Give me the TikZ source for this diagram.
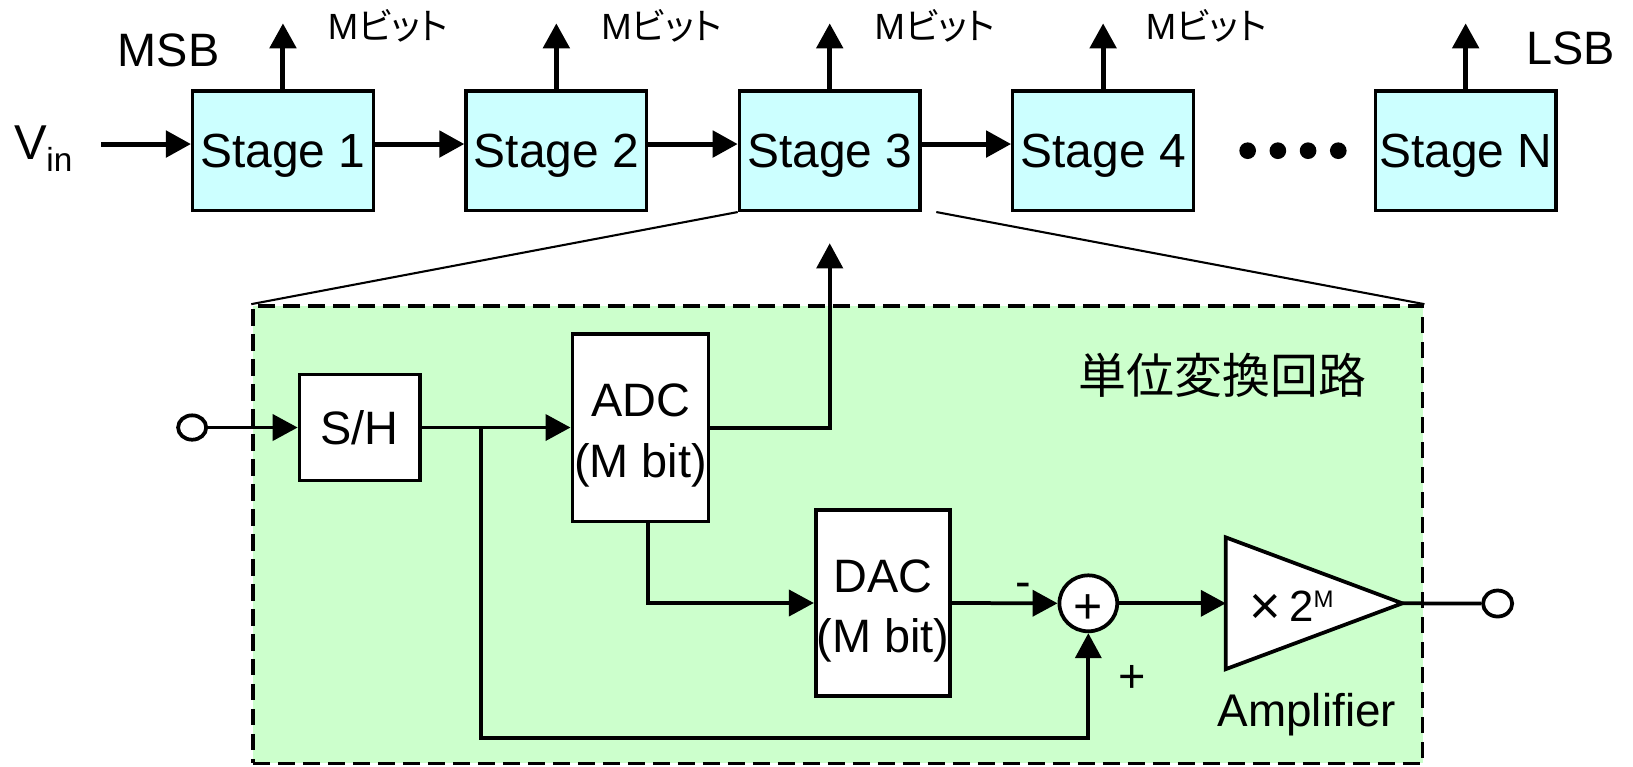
\documentclass[tikz,border=0pt]{standalone}
\usepackage{fontspec}
\setmainfont{Liberation Sans}
\newfontfamily\jpfont{Noto Sans CJK JP}
\newfontfamily\jppfont{Noto Sans CJK JP}[RawFeature=+palt]
\usetikzlibrary{arrows.meta,shapes.geometric}
\definecolor{stagefill}{HTML}{CCFFFF}
\definecolor{areafill}{HTML}{CCFFCC}
\tikzset{
  stagebox/.style={draw,line width=3.2pt,fill=stagefill,minimum width=173.5pt,minimum height=114.6pt,
    inner sep=0pt,text height=33pt,text depth=0pt,font=\fontsize{46}{46}\selectfont},
  topar/.style={line width=4.8pt,-{Triangle[length=24pt,width=25pt]}},
  wire/.style={line width=3.6pt},
  arr/.style={wire,-{Triangle[length=24pt,width=25pt]}},
  blk/.style={draw,line width=3.6pt,fill=white,inner sep=0pt},
  lbl/.style={inner sep=0pt,font=\fontsize{45}{45}\selectfont},
  mbit/.style={inner sep=0pt,anchor=base,font=\fontsize{35}{35}\selectfont},
  twoline/.style={blk,align=center,font=\fontsize{45}{58.3}\selectfont},
}
\begin{document}
\begin{tikzpicture}[x=1pt,y=-1pt]
\useasboundingbox (0,0) rectangle (1568,736);
% unit area
\node[draw,fill=areafill,line width=3.5pt,dash pattern=on 16pt off 8pt,
      minimum width=1123pt,minimum height=439.2pt,inner sep=0pt] (unit) at (804.5,513.4) {};
% stages
\node[stagebox] (s1) at (271.7,144.7) {Stage 1};
\node[stagebox] (s2) at (534.2,144.7) {Stage 2};
\node[stagebox] (s3) at (796.7,144.7) {Stage 3};
\node[stagebox] (s4) at (1059.2,144.7) {Stage 4};
\node[stagebox] (sn) at (1407.3,144.7) {Stage N};
\foreach \x in {1198,1227,1256,1285} \fill (\x,144.7) circle (8pt);
% zoom lines
\draw[line width=2pt] (s3.south west) -- (unit.north west);
\draw[line width=2pt] ([xshift=14pt]s3.south east) -- (unit.north east);
% input
\node[lbl,anchor=base west,font=\fontsize{47}{47}\selectfont] (vin) at (14,153.6)
  {V\kern-1pt\raisebox{-11.3pt}{\fontsize{32}{32}\selectfont in}};
\coordinate (v0) at (97,138.3);
\draw[topar] (v0) -- ([yshift=6.4pt]s1.west);
\draw[topar] ([yshift=6.4pt]s1.east) -- ([yshift=6.4pt]s2.west);
\draw[topar] ([yshift=6.4pt]s2.east) -- ([yshift=6.4pt]s3.west);
\draw[topar] ([yshift=6.4pt]s3.east) -- ([yshift=6.4pt]s4.west);
% up arrows
\coordinate (t1) at (271.7,22.4);
\coordinate (t2) at (534.2,22.4);
\coordinate (t3) at (796.7,22.4);
\coordinate (t4) at (1059.2,22.4);
\coordinate (tn) at (1407.3,22.4);
\draw[topar] (s1.north) -- (t1);
\draw[topar] (s2.north) -- (t2);
\draw[topar] (s3.north) -- (t3);
\draw[topar] (s4.north) -- (t4);
\draw[topar] (sn.north) -- (tn);
% labels top
\node[lbl,anchor=base] (msb) at (162,64) {MSB};
\node[lbl,anchor=base] (lsb) at (1508,62.4) {LSB};
\node[mbit] (m1) at (372.7,38.4) {M{\jppfont ビット}};
\node[mbit] (m2) at (635.2,38.4) {M{\jppfont ビット}};
\node[mbit] (m3) at (897.7,38.4) {M{\jppfont ビット}};
\node[mbit] (m4) at (1158.2,38.4) {M{\jppfont ビット}};
% title
\node[inner sep=0pt,font=\jpfont\fontsize{46}{46}\selectfont] (title) at (1174,360.5) {単位変換回路};
% lower blocks
\node[blk,ellipse,minimum width=27pt,minimum height=23.4pt] (inC) at (184.5,410.5) {};
\node[blk,minimum width=115.4pt,minimum height=101.8pt,text height=32.2pt,text depth=0pt,
      font=\fontsize{45}{45}\selectfont] (sh) at (345.3,410.5) {S/H};
\node[twoline,minimum width=130.8pt,minimum height=179.7pt] (adc) at (615,410.9)
  {\rule{0pt}{47pt}ADC\\(M bit)\rule[-10pt]{0pt}{10pt}};
\node[twoline,minimum width=129pt,minimum height=178.8pt] (dac) at (847.8,579)
  {\rule{0pt}{47.5pt}DAC\\(M bit)\rule[-10pt]{0pt}{10pt}};
\node[blk,ellipse,minimum width=55.5pt,minimum height=51pt,text height=38pt,text depth=0pt,
      font=\fontsize{48}{48}\selectfont] (sum) at (1045,579.3) {+};
% amplifier
\coordinate (ampin) at (1177,579.3);
\coordinate (apex) at (1346.5,579.3);
\draw[wire,fill=white,line join=miter] (1177,516) -- (1177,642.5) -- (apex) -- cycle;
\node[inner sep=0pt,anchor=base] (gain) at (1240,596.3)
  {\raisebox{-3pt}{\fontsize{52}{52}\selectfont ×}\kern8pt{\fontsize{42}{42}\selectfont 2}\raisebox{13pt}{\fontsize{23}{23}\selectfont M}};
\node[lbl,anchor=base,font=\fontsize{44}{44}\selectfont] (amp) at (1254.8,697.7) {Amplifier};
\node[blk,ellipse,minimum width=28pt,minimum height=25pt] (outC) at (1438,579.5) {};
% connectors
\coordinate (j) at (461.5,410.5);
\coordinate (fb) at (461.5,708.7);
\draw[arr] (inC.east) -- (sh.west);
\draw[arr] (sh.east) -- (sh.east -| adc.west);
\draw[arr] (j) -- (fb) -| (sum.south);
\draw[arr,shorten >=30pt] (adc.east) -| (s3.south);
\draw[arr] ([xshift=7pt]adc.south) |- (dac.west);
\draw[arr] (dac.east) -- (sum.west);
\draw[arr] (sum.east) -- (ampin);
\draw[wire] (apex) -- (outC.west);
% signs
\node[lbl,anchor=base] (minus) at (983,574) {-};
\node[lbl,anchor=base] (plus) at (1087,664.8) {+};
\end{tikzpicture}
\end{document}
